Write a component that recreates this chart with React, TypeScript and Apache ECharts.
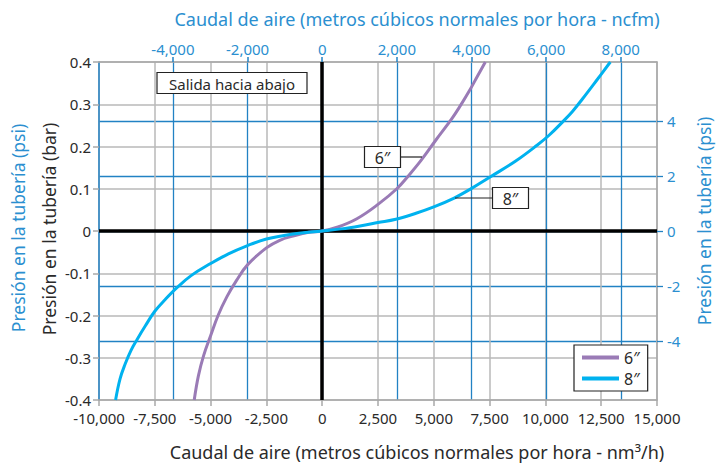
import { useEffect, useRef } from 'react';
import * as echarts from 'echarts';

// nm³/h per ncfm as drawn on the chart's top scale
const NM3H_PER_NCFM = 1.672;
// bar -> psi scale as drawn on the right axis
const PSI_AXIS_MAX = 6.15;

const flowTicksNcfm = [-4000, -2000, 0, 2000, 4000, 6000, 8000];
const psiTicks = [-4, -2, 0, 2, 4];

const seriesNames = ['6″', '8″'];

// 6" pipe: flow (nm³/h) vs pressure (bar)
const flow6 = [-5734, -5547, -5313, -5000, -4666, -4273, -3837, -3328, -2500, -1900, -1307, -600, 0, 706, 1554, 2500, 3343, 3870, 4428, 5103, 5809, 6206, 6574, 6941, 7309];
const bar6 = [-0.4, -0.343, -0.295, -0.248, -0.2, -0.156, -0.117, -0.079, -0.04, -0.022, -0.012, -0.003, 0, 0.0095, 0.029, 0.063, 0.1, 0.131, 0.167, 0.216, 0.266, 0.298, 0.33, 0.365, 0.4];

// 8" pipe
const flow8 = [-9257, -9057, -8829, -8571, -8286, -7929, -7500, -7031, -6484, -5859, -5000, -4201, -3372, -2500, -1307, 0, 847, 1694, 2500, 3298, 4202, 5000, 5912, 6603, 7560, 8653, 9626, 10152, 10803, 11212, 11667, 12273, 12909];
const bar8 = [-0.4, -0.35, -0.315, -0.283, -0.256, -0.225, -0.19, -0.162, -0.133, -0.105, -0.077, -0.054, -0.035, -0.019, -0.007, 0, 0.005, 0.012, 0.02, 0.028, 0.042, 0.057, 0.078, 0.098, 0.129, 0.165, 0.203, 0.226, 0.26, 0.283, 0.313, 0.355, 0.4];

const PURPLE = '#9a7bb6';
const CYAN = '#00b2ef';
const BLUE = '#2282c4';
const BLUE_TEXT = '#2b8fd0';
const GRAY = '#b9b9b9';
const AXIS_GRAY = '#a8a8a8';
const TEXT = '#2a2a2a';
const FONT = 'Noto Sans';

const fmt = (v: number) => Math.round(v).toLocaleString('en-US');

export default function App() {
  const ref = useRef<HTMLDivElement>(null);
  useEffect(() => {
    const chart = echarts.init(ref.current!, null, { renderer: 'svg' });
    const zip = (xs: number[], ys: number[]) => xs.map((x, i) => [x, ys[i]]);
    chart.setOption({
      animation: false,
      backgroundColor: '#fff',
      textStyle: { fontFamily: FONT },
      grid: { left: 99, right: 64, top: 62, bottom: 66, containLabel: false },
      xAxis: [
        {
          type: 'value',
          position: 'bottom',
          min: -10000,
          max: 15000,
          interval: 2500,
          axisLine: { show: true, onZero: false, lineStyle: { color: AXIS_GRAY, width: 1.5 } },
          axisTick: { show: true, length: 6, lineStyle: { color: AXIS_GRAY, width: 1.5 } },
          axisLabel: { color: TEXT, fontSize: 15, margin: 10, formatter: fmt, fontFamily: FONT },
          splitLine: { show: true, lineStyle: { color: GRAY, width: 1.5 } },
        },
        {
          type: 'value',
          position: 'top',
          min: -10000 / NM3H_PER_NCFM,
          max: 15000 / NM3H_PER_NCFM,
          axisLine: { show: true, onZero: false, lineStyle: { color: AXIS_GRAY, width: 1.5 } },
          axisTick: { show: true, length: 5, customValues: flowTicksNcfm, lineStyle: { color: BLUE, width: 1.5 } },
          axisLabel: { color: BLUE_TEXT, fontSize: 15, margin: 6, customValues: flowTicksNcfm, formatter: fmt, fontFamily: FONT },
          splitLine: { show: true, lineStyle: { color: BLUE, width: 1.3 } },
        },
      ],
      yAxis: [
        {
          type: 'value',
          position: 'left',
          min: -0.4,
          max: 0.4,
          interval: 0.1,
          axisLine: { show: true, onZero: false, lineStyle: { color: BLUE, width: 1.5 } },
          axisTick: { show: true, length: 6, lineStyle: { color: AXIS_GRAY, width: 1.5 } },
          axisLabel: { color: TEXT, fontSize: 15, margin: 8, fontFamily: FONT, formatter: (v: number) => String(Math.round(v * 10) / 10) },
          splitLine: { show: true, lineStyle: { color: GRAY, width: 1.5 } },
        },
        {
          type: 'value',
          position: 'right',
          min: -PSI_AXIS_MAX,
          max: PSI_AXIS_MAX,
          axisLine: { show: true, onZero: false, lineStyle: { color: AXIS_GRAY, width: 1.5 } },
          axisTick: { show: true, length: 6, customValues: psiTicks, lineStyle: { color: BLUE, width: 1.3 } },
          axisLabel: { color: BLUE_TEXT, fontSize: 15, margin: 10, customValues: psiTicks, fontFamily: FONT },
          splitLine: { show: true, lineStyle: { color: BLUE, width: 1.3 } },
        },
      ],
      legend: {
        data: seriesNames,
        orient: 'vertical',
        left: 574,
        top: 345,
        backgroundColor: '#fff',
        borderColor: '#222',
        borderWidth: 1.2,
        borderRadius: 0,
        padding: [4, 8, 4, 8],
        itemWidth: 37,
        itemHeight: 4,
        itemGap: 4,
        icon: 'rect',
        textStyle: { fontSize: 16, lineHeight: 17, color: TEXT, fontFamily: FONT },
        z: 20,
      },
      series: [
        {
          name: seriesNames[0],
          type: 'line',
          xAxisIndex: 0,
          yAxisIndex: 0,
          data: zip(flow6, bar6),
          showSymbol: false,
          smooth: 0.4,
          lineStyle: { color: PURPLE, width: 3 },
          itemStyle: { color: PURPLE },
          z: 5,
          markLine: {
            silent: true,
            symbol: 'none',
            animation: false,
            label: { show: false },
            lineStyle: { color: '#000', width: 3.5, type: 'solid' },
            data: [{ xAxis: 0 }, { yAxis: 0 }],
            z: 4,
          },
        },
        {
          name: seriesNames[1],
          type: 'line',
          xAxisIndex: 0,
          yAxisIndex: 0,
          data: zip(flow8, bar8),
          showSymbol: false,
          smooth: 0.4,
          lineStyle: { color: CYAN, width: 3 },
          itemStyle: { color: CYAN },
          z: 6,
        },
      ],
      graphic: [
        { type: 'text', x: 417, y: 19, z: 100, style: { text: 'Caudal de aire (metros cúbicos normales por hora - ncfm)', fill: BLUE_TEXT, font: `18px "${FONT}"`, align: 'center', verticalAlign: 'middle' } },
        { type: 'text', x: 417, y: 452, z: 100, style: { text: 'Caudal de aire (metros cúbicos normales por hora - nm³/h)', fill: TEXT, font: `18px "${FONT}"`, align: 'center', verticalAlign: 'middle' } },
        { type: 'text', x: 18, y: 228, rotation: Math.PI / 2, z: 100, style: { text: 'Presión en la tubería (psi)', fill: BLUE_TEXT, font: `17.5px "${FONT}"`, align: 'center', verticalAlign: 'middle' } },
        { type: 'text', x: 49, y: 229, rotation: Math.PI / 2, z: 100, style: { text: 'Presión en la tubería (bar)', fill: TEXT, font: `17.5px "${FONT}"`, align: 'center', verticalAlign: 'middle' } },
        { type: 'text', x: 704, y: 221, rotation: Math.PI / 2, z: 100, style: { text: 'Presión en la tubería (psi)', fill: BLUE_TEXT, font: `17.5px "${FONT}"`, align: 'center', verticalAlign: 'middle' } },
        { type: 'rect', z: 100, shape: { x: 157, y: 72.5, width: 150, height: 21 }, style: { fill: '#fff', stroke: '#222', lineWidth: 1.2 } },
        { type: 'text', x: 232, y: 83.5, z: 101, style: { text: 'Salida hacia abajo', fill: TEXT, font: `15px "${FONT}"`, align: 'center', verticalAlign: 'middle' } },
        { type: 'line', z: 100, shape: { x1: 400, y1: 157, x2: 422, y2: 157 }, style: { stroke: '#222', lineWidth: 1.2 } },
        { type: 'rect', z: 100, shape: { x: 364.5, y: 146.5, width: 36, height: 21 }, style: { fill: '#fff', stroke: '#222', lineWidth: 1.2 } },
        { type: 'text', x: 382.5, y: 157.5, z: 101, style: { text: seriesNames[0], fill: TEXT, font: `16px "${FONT}"`, align: 'center', verticalAlign: 'middle' } },
        { type: 'line', z: 100, shape: { x1: 455, y1: 198, x2: 492, y2: 198 }, style: { stroke: '#222', lineWidth: 1.2 } },
        { type: 'rect', z: 100, shape: { x: 492.5, y: 187.5, width: 36, height: 21 }, style: { fill: '#fff', stroke: '#222', lineWidth: 1.2 } },
        { type: 'text', x: 510.5, y: 198.5, z: 101, style: { text: seriesNames[1], fill: TEXT, font: `16px "${FONT}"`, align: 'center', verticalAlign: 'middle' } },
      ],
    });
    return () => chart.dispose();
  }, []);
  return <div ref={ref} style={{ position: 'absolute', left: 0, top: 0, width: 721, height: 466 }} />;
}
